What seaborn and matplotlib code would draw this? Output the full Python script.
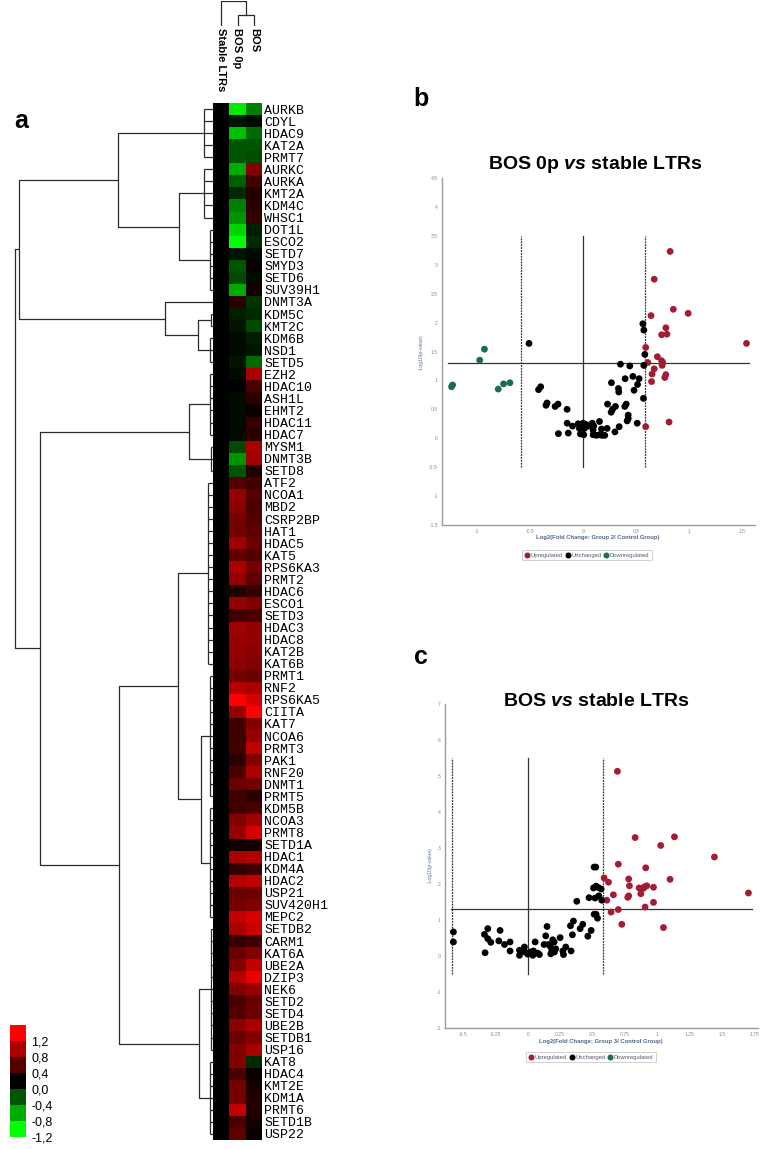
import numpy as np
import pandas as pd
import matplotlib
matplotlib.use("Agg")
import matplotlib.pyplot as plt
import seaborn as sns
from matplotlib.colors import LinearSegmentedColormap
from matplotlib.lines import Line2D

# ---------------- heatmap data (panel a) ----------------
GENES = [
    "AURKB", "CDYL", "HDAC9", "KAT2A", "PRMT7", "AURKC", "AURKA", "KMT2A", "KDM4C", "WHSC1",
    "DOT1L", "ESCO2", "SETD7", "SMYD3", "SETD6", "SUV39H1", "DNMT3A", "KDM5C", "KMT2C", "KDM6B",
    "NSD1", "SETD5", "EZH2", "HDAC10", "ASH1L", "EHMT2", "HDAC11", "HDAC7", "MYSM1", "DNMT3B",
    "SETD8", "ATF2", "NCOA1", "MBD2", "CSRP2BP", "HAT1", "HDAC5", "KAT5", "RPS6KA3", "PRMT2",
    "HDAC6", "ESCO1", "SETD3", "HDAC3", "HDAC8", "KAT2B", "KAT6B", "PRMT1", "RNF2", "RPS6KA5",
    "CIITA", "KAT7", "NCOA6", "PRMT3", "PAK1", "RNF20", "DNMT1", "PRMT5", "KDM5B", "NCOA3",
    "PRMT8", "SETD1A", "HDAC1", "KDM4A", "HDAC2", "USP21", "SUV420H1", "MEPC2", "SETDB2", "CARM1",
    "KAT6A", "UBE2A", "DZIP3", "NEK6", "SETD2", "SETD4", "UBE2B", "SETDB1", "USP16", "KAT8",
    "HDAC4", "KMT2E", "KDM1A", "PRMT6", "SETD1B", "USP22",
]
BOS_0P = [
    -1.1, -0.1, -0.9, -0.4, -0.4, -0.8, -0.45, -0.2, -0.6, -0.7,
    -1.0, -1.2, -0.1, -0.4, -0.35, -0.8, 0.2, -0.15, -0.1, -0.05,
    -0.05, -0.1, -0.05, 0.0, -0.05, -0.05, -0.05, -0.05, -0.35, -0.7,
    -0.4, 0.4, 0.7, 0.65, 0.55, 0.55, 0.75, 0.45, 0.8, 0.7,
    0.15, 0.7, 0.3, 0.75, 0.7, 0.7, 0.65, 0.55, 0.85, 1.2,
    0.7, 0.3, 0.3, 0.3, 0.2, 0.35, 0.5, 0.3, 0.3, 0.6,
    0.7, 0.1, 0.8, 0.25, 0.85, 0.5, 0.55, 0.9, 0.8, 0.25,
    0.5, 0.6, 0.85, 0.6, 0.35, 0.4, 0.65, 0.5, 0.6, 0.6,
    0.35, 0.55, 0.55, 0.9, 0.35, 0.45,
]
BOS = [
    -0.6, -0.05, -0.5, -0.4, -0.35, 0.6, 0.3, 0.15, 0.2, 0.25,
    -0.15, -0.2, -0.05, 0.05, -0.05, 0.1, -0.25, -0.2, -0.35, -0.15,
    -0.1, -0.5, 0.8, 0.35, 0.2, 0.05, 0.25, 0.2, 0.8, 0.75,
    0.15, 0.3, 0.4, 0.35, 0.4, 0.45, 0.5, 0.4, 0.55, 0.45,
    0.25, 0.6, 0.35, 0.7, 0.7, 0.65, 0.6, 0.5, 0.8, 1.0,
    1.2, 0.6, 0.7, 0.9, 0.6, 0.8, 0.55, 0.2, 0.35, 0.75,
    1.0, 0.1, 0.85, 0.3, 0.9, 0.5, 0.6, 1.0, 0.95, 0.3,
    0.6, 0.9, 1.1, 0.7, 0.5, 0.5, 0.8, 0.6, 0.8, -0.2,
    0.05, 0.1, 0.15, 0.15, 0.1, 0.05,
]
STABLE_LTRS = [0.0] * len(GENES)   # reference group
COLUMNS = ["Stable LTRs", "BOS 0p", "BOS"]
CBAR_LEVELS = [1.2, 0.8, 0.4, 0.0, -0.4, -0.8, -1.2]

# row dendrogram: ("g", first_row, last_row, height) joins a run of rows,
# ("n", height, upper, lower) joins two subtrees
ROW_TREE = ("n", 1.0,
            ("n", 0.98,
             ("n", 0.48, ("g", 0, 4, 0.045),
              ("n", 0.17, ("g", 5, 9, 0.045), ("g", 10, 15, 0.015))),
             ("n", 0.24, ("g", 16, 16, 0.0),
              ("n", 0.076, ("g", 17, 18, 0.01), ("g", 19, 21, 0.015)))),
            ("n", 0.874,
             ("n", 0.12, ("g", 22, 27, 0.015), ("g", 28, 30, 0.008)),
             ("n", 0.475,
              ("n", 0.177, ("g", 31, 46, 0.025),
               ("n", 0.06, ("g", 47, 57, 0.015), ("g", 58, 67, 0.015))),
              ("n", 0.07, ("g", 68, 78, 0.008), ("g", 79, 85, 0.015)))))

# ---------------- volcano data (panels b, c) ----------------
B_UP_X = [0.82, 0.67, 0.85, 0.99, 0.64, 0.78, 0.79, 0.74, 1.54, 0.59, 0.70,
          0.61, 0.74, 0.75, 0.745, 0.67, 0.65, 0.78, 0.77, 0.645, 0.59, 0.81]
B_UP_Y = [3.23, 2.75, 2.23, 2.16, 2.12, 1.91, 1.80, 1.79, 1.64, 1.57, 1.41,
          1.31, 1.34, 1.31, 1.26, 1.20, 1.11, 1.10, 1.05, 0.98, 0.20, 0.28]
B_DOWN_X = [-1.24, -1.23, -0.975, -0.93, -0.80, -0.75, -0.69]
B_DOWN_Y = [0.89, 0.92, 1.35, 1.54, 0.85, 0.94, 0.96]
B_NC_X = [-0.51, 0.563, 0.572, 0.582, 0.572, 0.352, 0.44, 0.469, 0.528, 0.396,
          0.513, 0.48, 0.267, 0.333, 0.336, 0.569, -0.40, -0.42, -0.34, -0.35,
          -0.236, -0.264, -0.151, 0.23, 0.305, 0.277, 0.264, 0.406, 0.393, 0.425,
          0.425, 0.415, 0.51, -0.15, -0.10, -0.047, -0.025, 0.0, 0.025, 0.047,
          0.085, 0.10, 0.154, -0.035, 0.013, 0.094, 0.173, 0.226, 0.34, 0.30,
          -0.233, -0.14, -0.025, 0.006, 0.094, 0.126, 0.154, 0.179, 0.204]
B_NC_Y = [1.64, 1.98, 1.87, 1.45, 1.26, 1.28, 1.25, 1.07, 1.03, 1.03,
          0.93, 0.83, 0.96, 0.86, 0.80, 0.69, 0.89, 0.84, 0.61, 0.57,
          0.59, 0.55, 0.50, 0.59, 0.55, 0.50, 0.45, 0.59, 0.55, 0.40,
          0.34, 0.30, 0.26, 0.26, 0.21, 0.25, 0.23, 0.26, 0.24, 0.21,
          0.26, 0.21, 0.29, 0.17, 0.17, 0.14, 0.16, 0.17, 0.20, 0.11,
          0.08, 0.09, 0.075, 0.06, 0.06, 0.05, 0.06, 0.05, 0.05]

C_UP_X = [0.693, 0.83, 1.134, 1.028, 1.443, 0.70, 0.912, 0.59, 0.624, 0.78,
          1.10, 0.786, 0.861, 0.894, 0.902, 0.92, 0.972, 1.706, 0.874, 0.662,
          0.773, 0.78, 0.972, 0.611, 0.907, 0.70, 0.644, 0.727, 1.049]
C_UP_Y = [5.13, 3.29, 3.31, 3.07, 2.75, 2.55, 2.45, 2.17, 2.05, 2.14,
          2.13, 1.95, 1.89, 1.88, 1.92, 1.95, 1.91, 1.75, 1.73, 1.70,
          1.63, 1.67, 1.49, 1.55, 1.36, 1.29, 1.22, 0.88, 0.79]
C_NC_X = [0.513, 0.526, 0.508, 0.528, 0.546, 0.567, 0.474, 0.52, 0.549, 0.572,
          0.379, 0.513, 0.528, 0.539, 0.353, 0.425, 0.33, 0.405, 0.149, -0.309,
          -0.214, 0.49, -0.575, -0.575, -0.335, -0.309, -0.286, -0.224, -0.18, -0.137,
          -0.137, -0.33, -0.064, -0.064, -0.026, -0.021, 0.0, 0.023, 0.044, 0.039,
          0.057, 0.077, 0.09, 0.126, 0.139, 0.16, 0.173, 0.193, 0.204, 0.186,
          0.206, 0.178, 0.216, 0.25, 0.271, 0.276, 0.294, 0.335, 0.345, 0.464]
C_NC_Y = [2.47, 2.47, 1.89, 1.94, 1.90, 1.86, 1.62, 1.61, 1.67, 1.55,
          1.52, 1.16, 1.16, 1.05, 0.97, 0.88, 0.84, 0.76, 0.82, 0.76,
          0.71, 0.71, 0.67, 0.39, 0.60, 0.48, 0.38, 0.42, 0.32, 0.39,
          0.14, 0.09, 0.16, 0.02, 0.25, 0.11, 0.05, 0.11, 0.14, 0.02,
          0.39, 0.08, 0.04, 0.32, 0.56, 0.32, 0.27, 0.45, 0.39, 0.16,
          0.11, 0.06, 0.20, 0.51, 0.14, 0.04, 0.25, 0.14, 0.59, 0.55]
C_DOWN_X = []
C_DOWN_Y = []

STATUS_COLORS = {"Upregulated": "#a31c33", "Unchanged": "#000000", "Downregulated": "#1d6b50"}

plt.rcParams["font.family"] = ["Liberation Sans", "DejaVu Sans"]
plt.rcParams["mathtext.fontset"] = "custom"
plt.rcParams["mathtext.rm"] = "Liberation Sans:bold"
plt.rcParams["mathtext.it"] = "Liberation Sans:italic:bold"

W, H = 764, 1149


def px_box(x0, y0, x1, y1):
    return [x0 / W, 1 - y1 / H, (x1 - x0) / W, (y1 - y0) / H]


def draw_tree(ax, t, **kw):
    if t[0] == "g":
        _, a, b, h = t
        ys = np.arange(a, b + 1) + 0.5
        for y in ys:
            ax.plot([0, h], [y, y], **kw)
        if b > a:
            ax.plot([h, h], [ys[0], ys[-1]], **kw)
        return ys.mean(), h
    _, h, up, low = t
    y1, h1 = draw_tree(ax, up, **kw)
    y2, h2 = draw_tree(ax, low, **kw)
    ax.plot([h1, h, h, h2], [y1, y1, y2, y2], **kw)
    return (y1 + y2) / 2, h


def volcano(ax, groups, xlim, ylim, xticks, yticks, vtop, hspan, title, title_xy,
            xlabel, xlabel_xy, ylabel_xy, legend_xy):
    frames = []
    for status, (xs, ys) in groups.items():
        frames.append(pd.DataFrame({"fc": xs, "p": ys, "status": status}))
    df = pd.concat(frames, ignore_index=True)
    sns.scatterplot(data=df, x="fc", y="p", hue="status", palette=STATUS_COLORS,
                    s=24, edgecolor="none", legend=False, ax=ax, zorder=3)
    ax.plot([0, 0], [-0.5, vtop], color="#333333", lw=0.9, zorder=2)
    for v in (-0.585, 0.585):
        ax.plot([v, v], [-0.5, vtop], color="#333333", lw=0.9, ls=(0, (1.5, 0.8)), zorder=2)
    ax.plot(hspan, [1.301, 1.301], color="#333333", lw=0.9, zorder=2)
    ax.set_xlim(*xlim)
    ax.set_ylim(*ylim)
    ax.set_xticks(xticks)
    ax.set_xticklabels([f"{v:g}" for v in xticks])
    ax.set_yticks(yticks)
    ax.set_yticklabels([f"{v:g}" for v in yticks])
    ax.tick_params(length=0, labelsize=3.6, labelcolor="#8a8a8a", pad=3)
    for side in ("top", "right"):
        ax.spines[side].set_visible(False)
    for side in ("left", "bottom"):
        ax.spines[side].set_color("#9a9a9a")
        ax.spines[side].set_linewidth(1.0)
    ax.set_xlabel("")
    ax.set_ylabel("")
    ax.set_facecolor("none")
    fig.text(title_xy[0] / W, 1 - title_xy[1] / H, title, ha="center", va="center",
             fontsize=14, fontweight="bold")
    fig.text(xlabel_xy[0] / W, 1 - xlabel_xy[1] / H, xlabel, ha="center", va="center",
             fontsize=4.2, color="#4f6788", fontweight="bold")
    fig.text(ylabel_xy[0] / W, 1 - ylabel_xy[1] / H, "-Log10(p-value)", ha="center",
             va="center", rotation=90, fontsize=3.6, color="#5a7698")
    handles = [Line2D([], [], marker="o", ls="", color=c, markersize=3.3, label=k)
               for k, c in STATUS_COLORS.items()]
    leg = fig.legend(handles=handles, loc="center", ncol=3,
                     bbox_to_anchor=(legend_xy[0] / W, 1 - legend_xy[1] / H),
                     fontsize=4.2, frameon=True, fancybox=True, handletextpad=0.15,
                     columnspacing=0.5, borderpad=0.5, handlelength=0.8)
    leg.get_frame().set_edgecolor("#bbbbbb")
    leg.get_frame().set_linewidth(0.6)
    for t in leg.get_texts():
        t.set_color("#4f5b70")


fig = plt.figure(figsize=(W / 100, H / 100), dpi=100)

# ---- heatmap ----
cmap = LinearSegmentedColormap.from_list("gkr", ["#00ff00", "#000000", "#ff0000"])
heat = pd.DataFrame({"Stable LTRs": STABLE_LTRS, "BOS 0p": BOS_0P, "BOS": BOS}, index=GENES)
ax_h = fig.add_axes(px_box(213, 103, 262, 1140))
sns.heatmap(heat[COLUMNS], ax=ax_h, cmap=cmap, vmin=-1.2, vmax=1.2, cbar=False,
            xticklabels=False, yticklabels=True)
ax_h.yaxis.tick_right()
ax_h.set_yticks(np.arange(len(GENES)) + 0.5)
ax_h.set_yticklabels(GENES, rotation=0, fontfamily="Liberation Mono", fontsize=9.5)
ax_h.tick_params(length=0, pad=1.5)
ax_h.set_xlabel("")
ax_h.set_ylabel("")

# ---- row dendrogram ----
ax_d = fig.add_axes(px_box(12, 103, 213, 1140))
draw_tree(ax_d, ROW_TREE, color="#2b2b2b", lw=0.9, solid_capstyle="butt")
ax_d.set_xlim(1.015, 0)
ax_d.set_ylim(len(GENES), 0)
ax_d.axis("off")

# ---- column dendrogram + labels ----
ax_cd = fig.add_axes(px_box(213, 1, 262, 26))
kw = dict(color="#2b2b2b", lw=0.9)
ax_cd.plot([0.5, 0.5, 2.0, 2.0], [0, 1, 1, 0.45], **kw)
ax_cd.plot([1.5, 1.5, 2.5, 2.5], [0, 0.45, 0.45, 0], **kw)
ax_cd.set_xlim(0, 3)
ax_cd.set_ylim(0, 1.02)
ax_cd.axis("off")
for i, name in enumerate(COLUMNS):
    fig.text((213 + (i + 0.5) * 49 / 3) / W, 1 - 28 / H, name, rotation=-90,
             ha="center", va="top", fontsize=8, fontweight="bold")

# ---- colour key ----
ax_k = fig.add_axes(px_box(10, 1025, 26, 1137))
key = pd.DataFrame({"k": CBAR_LEVELS})
sns.heatmap(key, ax=ax_k, cmap=cmap, vmin=-1.2, vmax=1.2, cbar=False,
            xticklabels=False, yticklabels=False)
ax_k.yaxis.tick_right()
ax_k.set_yticks(np.arange(len(CBAR_LEVELS)) + 1)
ax_k.set_yticklabels([f"{v:.1f}".replace(".", ",") for v in CBAR_LEVELS], fontsize=9)
ax_k.tick_params(length=0, pad=4)
ax_k.set_ylabel("")

# ---- panel letters ----
fig.text(21 / W, 1 - 121 / H, "a", ha="center", va="center", fontsize=18, fontweight="bold")
fig.text(421 / W, 1 - 99 / H, "b", ha="center", va="center", fontsize=18, fontweight="bold")
fig.text(421 / W, 1 - 657 / H, "c", ha="center", va="center", fontsize=18, fontweight="bold")

# ---- volcano b ----
ax_b = fig.add_axes(px_box(442, 178, 755, 525))
volcano(ax_b,
        {"Upregulated": (B_UP_X, B_UP_Y), "Unchanged": (B_NC_X, B_NC_Y),
         "Downregulated": (B_DOWN_X, B_DOWN_Y)},
        xlim=(-1.33, 1.62), ylim=(-1.5, 4.5),
        xticks=[-1, -0.5, 0, 0.5, 1, 1.5], yticks=np.arange(-1.5, 4.51, 0.5),
        vtop=3.5, hspan=[-1.27, 1.56],
        title=r"BOS 0p $\mathit{vs}$ stable LTRs", title_xy=(595, 165),
        xlabel="Log2(Fold Change: Group 2/ Control Group)", xlabel_xy=(598, 538),
        ylabel_xy=(421, 352), legend_xy=(587, 555))

# ---- volcano c ----
ax_c = fig.add_axes(px_box(445, 704, 758, 1028))
volcano(ax_c,
        {"Upregulated": (C_UP_X, C_UP_Y), "Unchanged": (C_NC_X, C_NC_Y),
         "Downregulated": (C_DOWN_X, C_DOWN_Y)},
        xlim=(-0.64, 1.78), ylim=(-2, 7),
        xticks=np.arange(-0.5, 1.76, 0.25), yticks=np.arange(-2, 7.1, 1),
        vtop=5.5, hspan=[-0.59, 1.73],
        title=r"BOS $\mathit{vs}$ stable LTRs", title_xy=(596, 702),
        xlabel="Log2(Fold Change: Group 3/ Control Group)", xlabel_xy=(601, 1041),
        ylabel_xy=(430, 865), legend_xy=(591, 1057))

fig.savefig("out.png", dpi=100)
plt.close(fig)
